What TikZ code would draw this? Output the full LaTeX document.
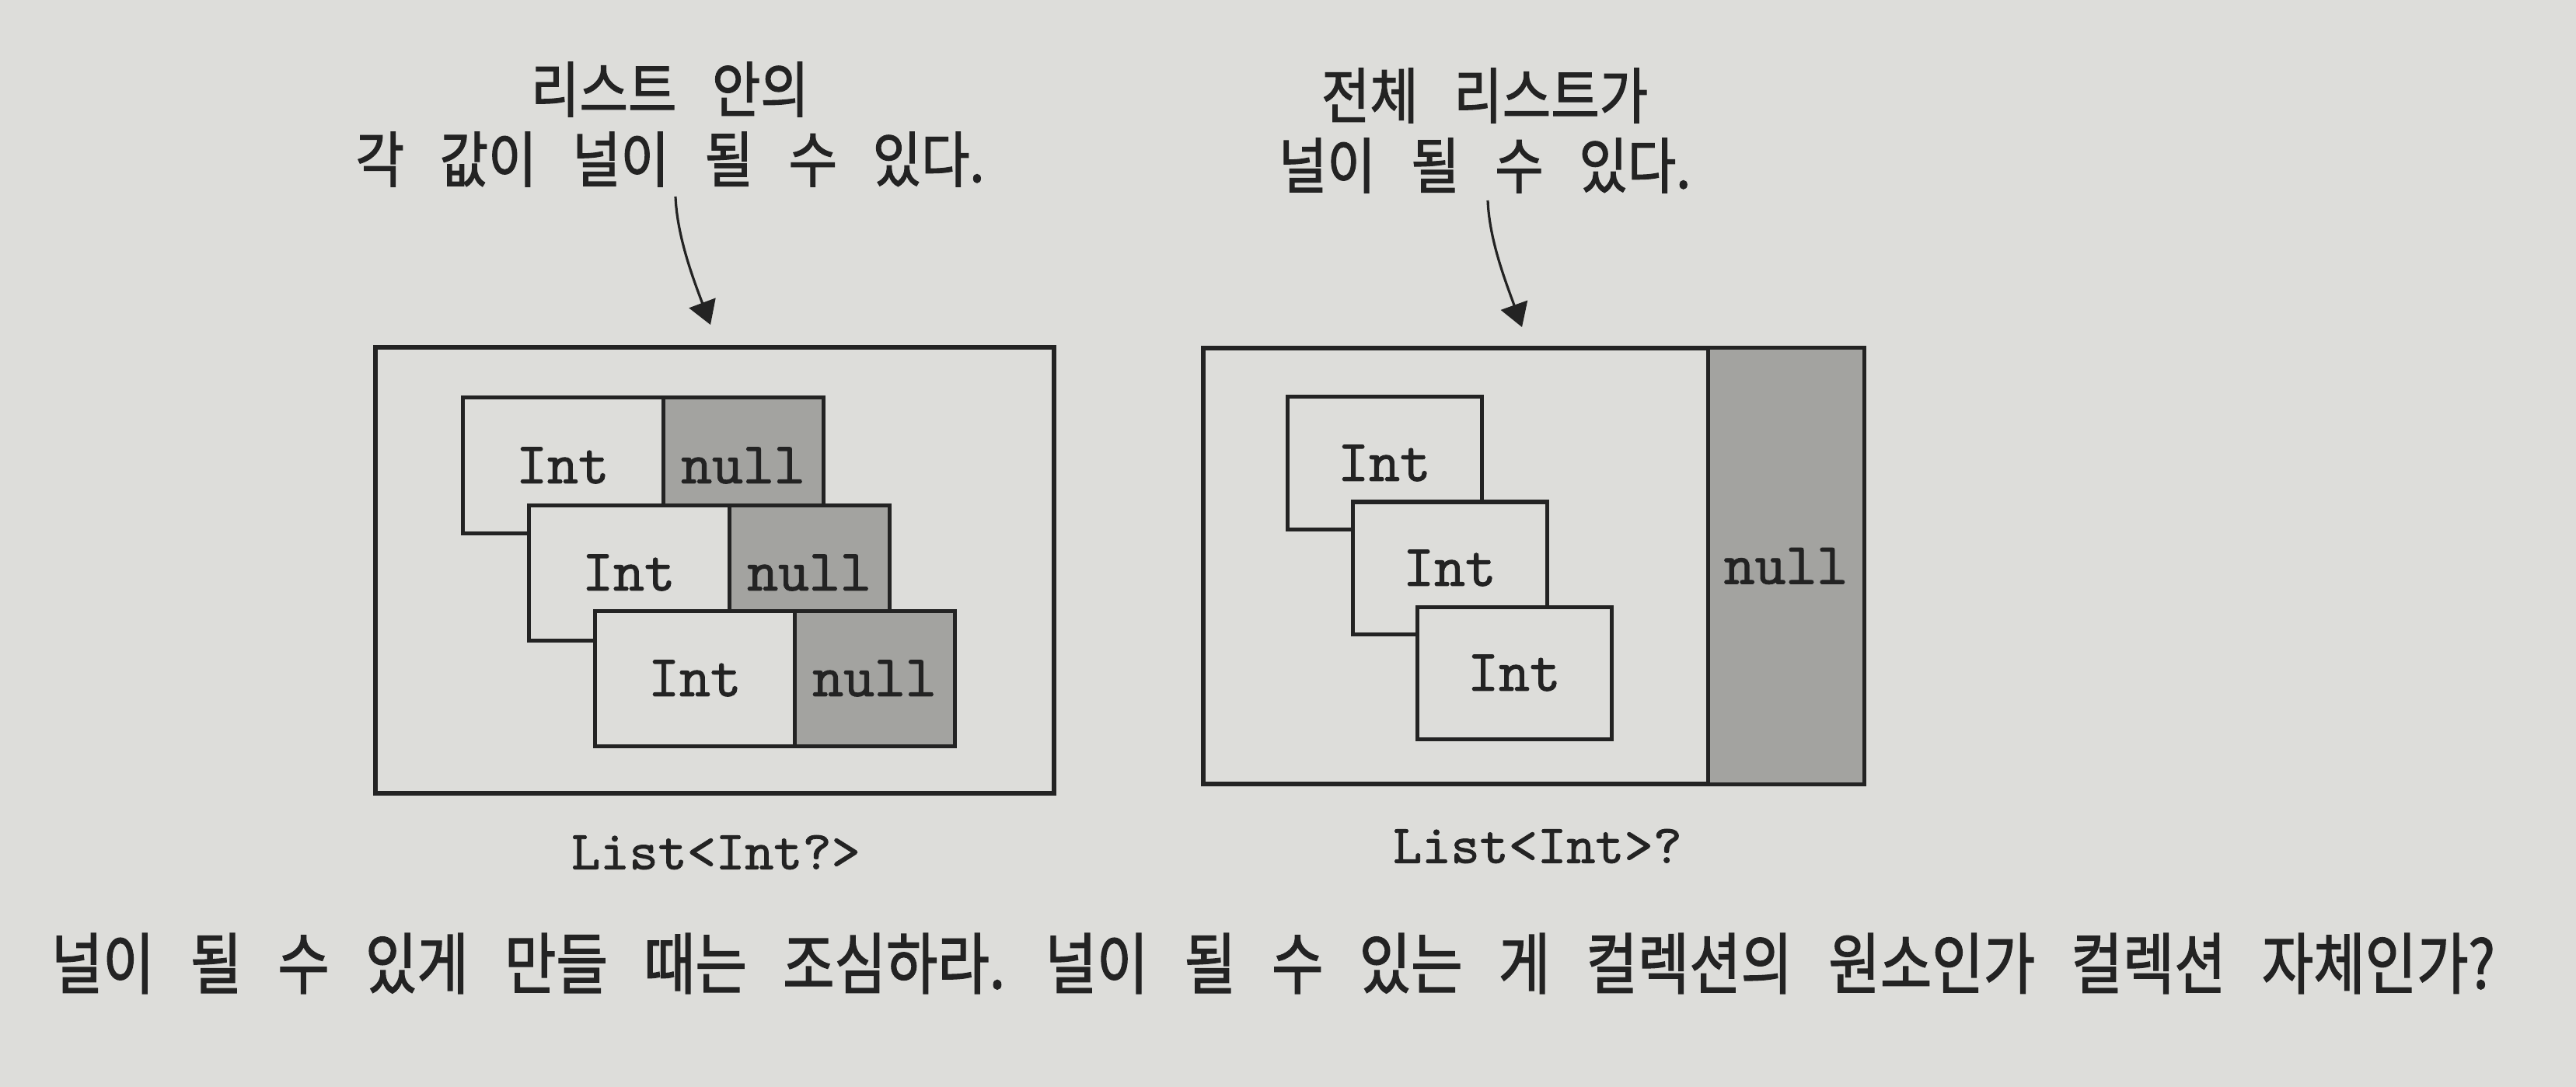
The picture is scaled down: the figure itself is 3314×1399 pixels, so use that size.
\documentclass[tikz,border=0pt]{standalone}
\usepackage{fontspec}
\newfontfamily\krtop[WordSpace=3.0,FakeBold=1.5,FakeStretch=0.87]{Noto Sans CJK KR}
\newfontfamily\krbot[WordSpace=2.85,FakeBold=1.5,FakeStretch=0.84]{Noto Sans CJK KR}
\newfontfamily\cellmono[FakeBold=1.2]{lmmono10-regular.otf}
\usetikzlibrary{arrows.meta}
\definecolor{paper}{RGB}{221,221,218}
\definecolor{ink}{RGB}{35,35,35}
\definecolor{nullfill}{RGB}{163,163,160}
\begin{document}
\begin{tikzpicture}[x=0.25pt,y=-0.25pt,
  cellfont/.style={font=\cellmono\fontsize{19pt}{19pt}\selectfont},
  box/.style={draw=ink, line width=1.25pt, fill=paper, inner sep=0pt, text=ink, cellfont},
  outerbox/.style={draw=ink, line width=1.4pt, fill=paper, inner sep=0pt},
  intL/.style={box, minimum width=64.5pt, minimum height=43.5pt},
  nullL/.style={box, fill=nullfill, minimum width=51.5pt, minimum height=43.5pt},
  intR/.style={box, minimum width=62.5pt, minimum height=42.5pt},
  captext/.style={align=center, text=ink, inner sep=0pt, font=\krtop\fontsize{19.5pt}{22.5pt}\selectfont},
  typelabel/.style={text=ink, inner sep=0pt, font=\cellmono\fontsize{17.7pt}{17.7pt}\selectfont},
  arr/.style={draw=ink, line width=0.8pt, -{Triangle[length=7.5pt,width=9pt]}}
]
\fill[paper] (0,0) rectangle (3314,1399);
\useasboundingbox (0,0) rectangle (3314,1399);

% captions
\node[captext] (capL) at (862,160) {리스트 안의\\각 값이 널이 될 수 있다.};
\node[captext] (capR) at (1910,168) {전체 리스트가\\널이 될 수 있다.};

% left diagram
\node[outerbox, minimum width=218.25pt, minimum height=143.5pt] (outL) at (919.5,734) {};
\node[intL]  (i1) at (724,599) {Int};
\node[nullL] (n1) at (956,599) {null};
\node[intL]  (i2) at (809,737) {Int};
\node[nullL] (n2) at (1041,737) {null};
\node[intL]  (i3) at (894,873) {Int};
\node[nullL] (n3) at (1125,873) {null};
\node[typelabel] (labL) at (921,1097) {List<Int?>};

% right diagram
\node[outerbox, minimum width=212.5pt, minimum height=140.25pt] (outR) at (1973,728.5) {};
\node[box, fill=nullfill, minimum width=50.25pt, minimum height=140.25pt] (nR) at (2297.5,728.5) {null};
\node[intR] (r1) at (1781,596) {Int};
\node[intR] (r2) at (1865,731) {Int};
\node[intR] (r3) at (1948,866) {Int};
\node[typelabel] (labR) at (1978,1089) {List<Int>?};

% arrows
\coordinate (aL1) at (869,253);
\coordinate (aL2) at (914,418);
\coordinate (aR1) at (1914,258);
\coordinate (aR2) at (1958,421);
\draw[arr] (aL1) .. controls (871,305) and (893,362) .. (aL2);
\draw[arr] (aR1) .. controls (1916,310) and (1938,365) .. (aR2);

% bottom caption
\node[text=ink, inner sep=0pt, anchor=west, font=\krbot\fontsize{21.5pt}{24pt}\selectfont] (bottom) at (65,1240)
  {널이 될 수 있게 만들 때는 조심하라. 널이 될 수 있는 게 컬렉션의 원소인가 컬렉션 자체인가?};
\end{tikzpicture}
\end{document}
